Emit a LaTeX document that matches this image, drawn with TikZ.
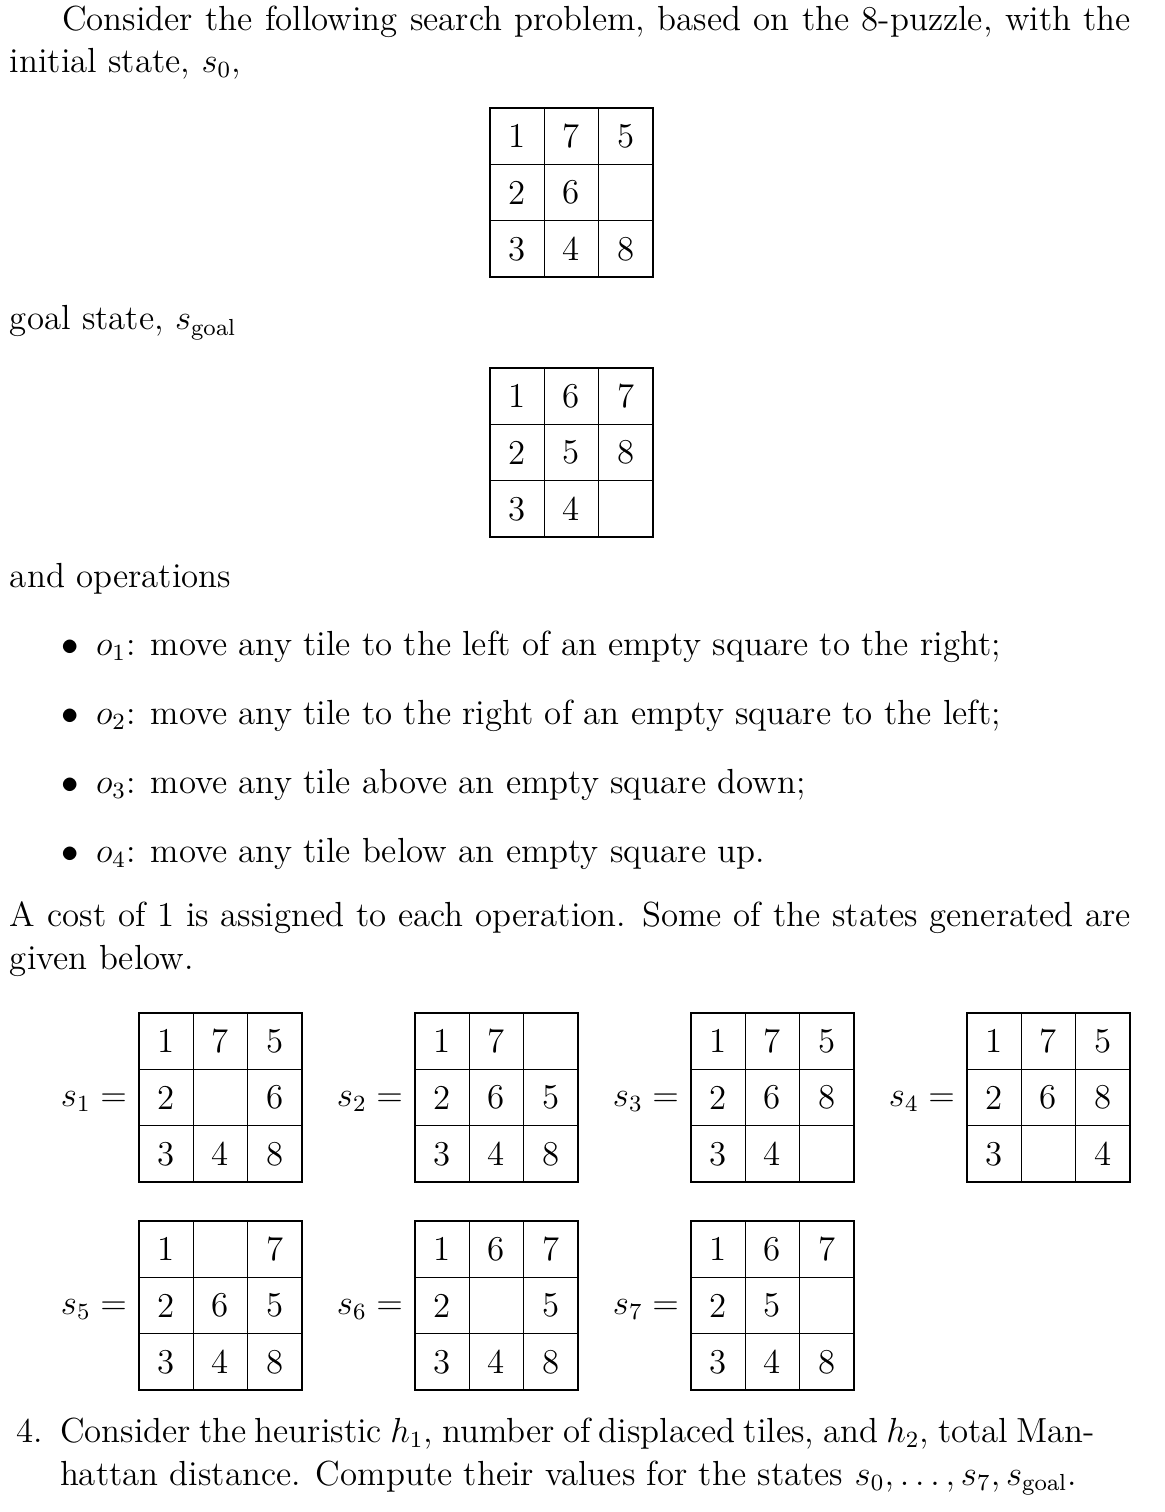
\documentclass[tikz,border=0pt,12pt]{standalone}
\newcommand\eightpuzzle[4]{%
  \foreach \v [count=\k from 0] in {#4}{%
    \pgfmathtruncatemacro\rr{div(\k,3)}%
    \pgfmathtruncatemacro\cc{mod(\k,3)}%
    \node[cell] (#1-\rr\cc) at ({#2+27.17+54.33*\cc},{#3+28.17+56.33*\rr}) {\v};
  }%
}
\begin{document}
\begin{tikzpicture}[x=0.3445pt,y=-0.3445pt,
  txt/.style={inner sep=0pt,outer sep=0pt,anchor=base west,font=\fontsize{12}{14.5}\selectfont},
  cell/.style={draw,line width=0.45pt,minimum width=18.72pt,minimum height=19.41pt,inner sep=0pt,outer sep=0pt,font=\fontsize{12}{14.5}\selectfont}]
\useasboundingbox (0,0) rectangle (1164,1512);
\node[txt] (l1) at (10,31) {\makebox[386.2pt][s]{\hspace*{18pt}Consider the following search problem, based on the 8-puzzle, with the}};
\node[txt] (l2) at (10,72.7) {initial state, $s_0$,};
\eightpuzzle{s0}{490}{108}{1,7,5,2,6,{},3,4,8}
\node[txt] (l3) at (10,330) {goal state, $s_{\mathrm{goal}}$};
\eightpuzzle{sg}{490}{368}{1,6,7,2,5,8,3,4,{}}
\node[txt] (l4) at (10,588) {and operations};
\node[txt,anchor=base east] (b1) at (79,655) {$\bullet$};
\node[txt] (o1) at (96,655) {$o_1$: move any tile to the left of an empty square to the right;};
\node[txt,anchor=base east] (b2) at (79,724) {$\bullet$};
\node[txt] (o2) at (96,724) {$o_2$: move any tile to the right of an empty square to the left;};
\node[txt,anchor=base east] (b3) at (79,793) {$\bullet$};
\node[txt] (o3) at (96,793) {$o_3$: move any tile above an empty square down;};
\node[txt,anchor=base east] (b4) at (79,862) {$\bullet$};
\node[txt] (o4) at (96,862) {$o_4$: move any tile below an empty square up.};
\node[txt] (l5) at (10,926) {\makebox[386.2pt][s]{A cost of 1 is assigned to each operation. Some of the states generated are}};
\node[txt] (l6) at (10,969) {given below.};
% row 1
\node[txt,anchor=base east] (s1l) at (127,1106) {$s_1 =$};
\eightpuzzle{s1}{139}{1013}{1,7,5,2,{},6,3,4,8}
\node[txt,anchor=base east] (s2l) at (403,1106) {$s_2 =$};
\eightpuzzle{s2}{415}{1013}{1,7,{},2,6,5,3,4,8}
\node[txt,anchor=base east] (s3l) at (679,1106) {$s_3 =$};
\eightpuzzle{s3}{691}{1013}{1,7,5,2,6,8,3,4,{}}
\node[txt,anchor=base east] (s4l) at (955,1106) {$s_4 =$};
\eightpuzzle{s4}{967}{1013}{1,7,5,2,6,8,3,{},4}
% row 2
\node[txt,anchor=base east] (s5l) at (127,1314) {$s_5 =$};
\eightpuzzle{s5}{139}{1221}{1,{},7,2,6,5,3,4,8}
\node[txt,anchor=base east] (s6l) at (403,1314) {$s_6 =$};
\eightpuzzle{s6}{415}{1221}{1,6,7,2,{},5,3,4,8}
\node[txt,anchor=base east] (s7l) at (679,1314) {$s_7 =$};
\eightpuzzle{s7}{691}{1221}{1,6,7,2,5,{},3,4,8}
% question
\node[txt,anchor=base east] (n4) at (43,1442) {4.};
\node[txt] (q1) at (60,1442) {\makebox[356.6pt][s]{Consider the heuristic $h_1$, number of displaced tiles, and $h_2$, total Man-}};
\node[txt] (q2) at (60,1485) {hattan distance. Compute their values for the states $s_0,\dots,s_7,s_{\mathrm{goal}}$.};
\end{tikzpicture}
\end{document}
